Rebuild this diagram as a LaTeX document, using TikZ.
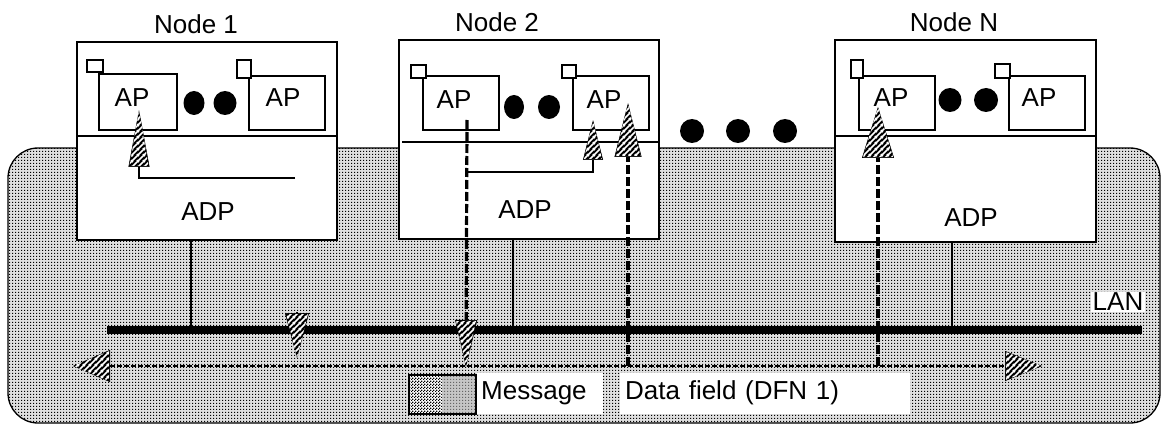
\documentclass[tikz,border=0pt]{standalone}
\usepackage{fontspec}
\setmainfont{Liberation Sans}
\usetikzlibrary{arrows.meta,patterns,patterns.meta}
\tikzdeclarepattern{
  name=hstripes, type=uncolored,
  bottom left={(0pt,0pt)}, top right={(6pt,6pt)}, tile size={(6pt,6pt)},
  code={
    \draw[line width=1.8pt] (-1pt,-1pt) -- (7pt,7pt);
    \draw[line width=1.8pt] (-1pt,5pt) -- (1pt,7pt);
    \draw[line width=1.8pt] (5pt,-1pt) -- (7pt,1pt);
  }
}
\tikzdeclarepattern{
  name=finechk, type=uncolored,
  bottom left={(0pt,0pt)}, top right={(3pt,3pt)}, tile size={(3pt,3pt)},
  code={
    \fill (0pt,0pt) rectangle (1.5pt,1.5pt);
    \fill (1.5pt,1.5pt) rectangle (3pt,3pt);
  }
}
\tikzdeclarepattern{
  name=sqdots, type=uncolored,
  bottom left={(0pt,0pt)}, top right={(3pt,3pt)}, tile size={(3pt,3pt)},
  code={\fill (0pt,0pt) rectangle (1.4pt,1.4pt);}
}
\begin{document}
\begin{tikzpicture}[x=1pt,y=-1pt,
  rbox/.style={draw, line width=1.3pt, fill=white, inner sep=0pt, outer sep=0pt, anchor=north west},
  lbl/.style={font=\fontsize{26}{28}\selectfont, inner sep=0pt},
  bdot/.style={circle, fill=black, inner sep=0pt, minimum size=24pt},
  thinln/.style={line width=1.2pt},
  dsh/.style={line width=3.2pt, dash pattern=on 9pt off 3pt},
  dshh/.style={line width=2.4pt, dash pattern=on 5pt off 2pt},
  ht/.style 2 args={-{Triangle[length=#1,width=#2,fill=black,line width=0.5pt]}},
  pics/stri/.style 2 args={code={
    \fill[pattern=hstripes, pattern color=white] (0,0) -- ({-#2/2+1},#1-1) -- ({#2/2-1},#1-1) -- cycle;}},
]
\useasboundingbox (0,0) rectangle (1163,425);
% shaded LAN region
\fill[gray!25, rounded corners=30pt] (8,148) rectangle (1160,423);
\fill[pattern=sqdots, pattern color=black, rounded corners=30pt] (8,148) rectangle (1160,423);
\draw[line width=1.3pt, rounded corners=30pt] (8,148) rectangle (1160,423);

% LAN bus
\coordinate (lanL) at (107,330);
\coordinate (lanR) at (1142,330);
\draw[line width=8pt] (lanL) -- (lanR);
\node[lbl, fill=white, inner sep=1.5pt] (lan) at (1118,302) {LAN};

% ---------- Node 1 ----------
\node[lbl] (t1) at (196,24) {Node 1};
\node[rbox, minimum width=260pt, minimum height=198pt] (n1) at (77,42) {};
\draw[line width=1.3pt] (77,136) -- (337,136);
\node[rbox, minimum width=78pt, minimum height=56pt] (n1a) at (99,74) {};
\node[rbox, minimum width=16pt, minimum height=12pt] (n1as) at (87,60) {};
\node[rbox, minimum width=76pt, minimum height=54pt] (n1b) at (249,76) {};
\node[rbox, minimum width=14pt, minimum height=18pt] (n1bs) at (237,60) {};
\node[lbl] (n1at) at (132,98) {AP};
\node[lbl] (n1bt) at (283,98) {AP};
\fill (194,103) ellipse [x radius=10.5pt, y radius=12pt];
\fill (225,103) ellipse [x radius=11.5pt, y radius=12pt];
\node[lbl] (n1d) at (208,212) {ADP};

% ---------- Node 2 ----------
\node[lbl] (t2) at (497,22) {Node 2};
\node[rbox, minimum width=260pt, minimum height=199pt] (n2) at (399,40) {};
\draw[line width=1.3pt] (402,142) -- (658,142);
\node[rbox, minimum width=76pt, minimum height=54pt] (n2a) at (423,76) {};
\node[rbox, minimum width=15pt, minimum height=13pt] (n2as) at (411,65) {};
\node[rbox, minimum width=76pt, minimum height=54pt] (n2b) at (573,76) {};
\node[rbox, minimum width=14pt, minimum height=13pt] (n2bs) at (562,65) {};
\node[lbl] (n2at) at (454,100) {AP};
\node[lbl] (n2bt) at (604,100) {AP};
\fill (514,107) ellipse [x radius=10pt, y radius=12pt];
\fill (549,107) ellipse [x radius=11pt, y radius=12pt];
\node[lbl] (n2d) at (525,210) {ADP};

% ---------- Node N ----------
\node[lbl] (tN) at (954,22) {Node N};
\node[rbox, minimum width=261pt, minimum height=202pt] (nN) at (835,40) {};
\draw[line width=1.3pt] (835,136) -- (1096,136);
\node[rbox, minimum width=76pt, minimum height=54pt] (nNa) at (859,76) {};
\node[rbox, minimum width=12pt, minimum height=18pt] (nNas) at (851,60) {};
\node[rbox, minimum width=76pt, minimum height=54pt] (nNb) at (1009,76) {};
\node[rbox, minimum width=15pt, minimum height=14pt] (nNbs) at (995,64) {};
\node[lbl] (nNat) at (891,98) {AP};
\node[lbl] (nNbt) at (1039,98) {AP};
\fill (950,100) ellipse [x radius=11.5pt, y radius=12pt];
\fill (986,100) ellipse [x radius=12pt, y radius=12pt];
\node[lbl] (nNd) at (971,218) {ADP};

% three big dots between nodes
\node[bdot] (bd1) at (692,131) {};
\node[bdot] (bd2) at (738,131) {};
\node[bdot] (bd3) at (785,131) {};

% ADP to LAN drops
\draw[thinln] (n1.south -| 191,0) -- (191,0 |- lanL);
\draw[thinln] (n2.south -| 513,0) -- (513,0 |- lanL);
\draw[thinln] (nN.south -| 952,0) -- (952,0 |- lanL);

% ---------- message paths ----------
% node 1 internal
\coordinate (m1s) at (295,178);
\coordinate (m1t) at (139,110);
\draw[thinln, ht={57pt}{21pt}] (m1s) -| (m1t);
\pic at (m1t) {stri={57}{21}};

% node 2 outgoing message
\coordinate (d2s) at (467,120);
\coordinate (d2e) at (466,367);
\draw[dsh, ht={47pt}{22pt}] (d2s) -- (d2e);
\pic[rotate=180] at (d2e) {stri={47}{22}};
\coordinate (j2) at (468,172);
\coordinate (m2t) at (593,120);
\draw[thinln, ht={40pt}{20pt}] (j2) -| (m2t);
\pic at (m2t) {stri={40}{20}};

% message on LAN
\coordinate (lm1) at (297,312);
\coordinate (lm2) at (297,358);
\draw[thinln, ht={45pt}{24pt}] (lm1) -- (lm2);
\pic[rotate=180] at (lm2) {stri={45}{24}};

% data field line
\coordinate (dfl) at (73,366);
\coordinate (dfr) at (1042,366);
\draw[dshh, {Triangle[length=37pt,width=32pt,fill=black,line width=0.5pt]}-{Triangle[length=37pt,width=30pt,fill=black,line width=0.5pt]}] (dfl) -- (dfr);
\pic[rotate=90] at (dfl) {stri={37}{32}};
\pic[rotate=-90] at (dfr) {stri={37}{30}};

% receivers
\coordinate (r2s) at (628,366);
\coordinate (r2t) at (628,103);
\draw[dsh, ht={54pt}{27pt}] (r2s) -- (r2t);
\pic at (r2t) {stri={54}{27}};
\coordinate (rNs) at (878,366);
\coordinate (rNt) at (878,107);
\draw[dsh, ht={51pt}{32pt}] (rNs) -- (rNt);
\pic at (rNt) {stri={51}{32}};

% legend
\node[draw, line width=1.3pt, inner sep=0pt, minimum width=66pt, minimum height=38pt, anchor=north west] (leg) at (409,375) {};
\fill[white] (409,375) rectangle (442,413);
\fill[pattern=finechk, pattern color=black] (409,375) rectangle (442,413);
\fill[gray!45] (442,375) rectangle (475,413);
\fill[pattern=sqdots, pattern color=black!60] (442,375) rectangle (475,413);
\draw[line width=1.3pt] (leg.north west) rectangle (leg.south east);
\node[lbl, fill=white, anchor=west, minimum height=41pt, text width=118pt, inner xsep=4pt, align=left] (msg) at (477,393) {Message};
\node[lbl, fill=white, anchor=west, minimum height=41pt, text width=280pt, inner xsep=5pt, align=left] (dfn) at (620,393) {Data field (DFN 1)};
\end{tikzpicture}
\end{document}
